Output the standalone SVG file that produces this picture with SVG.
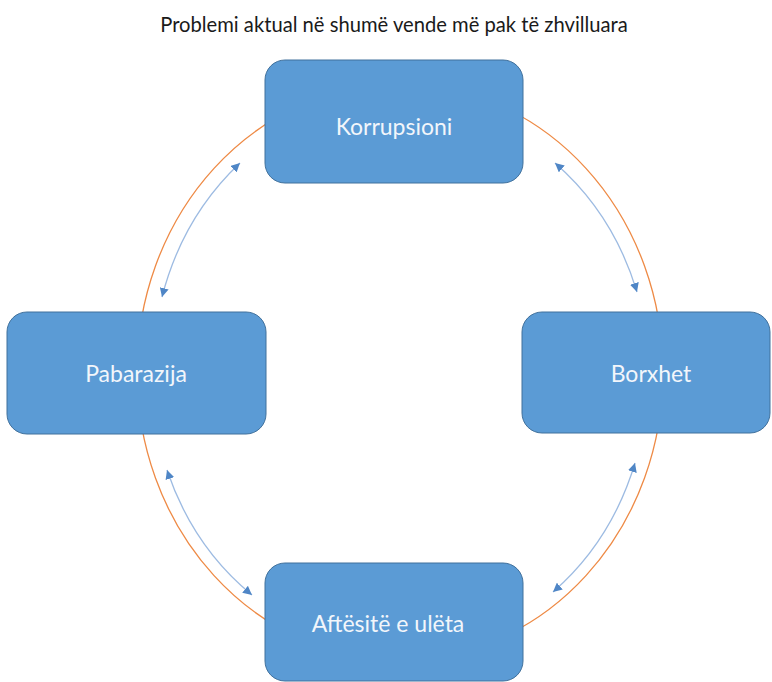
<svg xmlns="http://www.w3.org/2000/svg" width="772" height="682" viewBox="0 0 772 682">
<style>
.box{fill:#5B9BD5;stroke:#41719C;stroke-width:1}
.lbl{font-family:Lato,"Open Sans","Liberation Sans",sans-serif;font-size:23px;fill:#F2F6FB;text-anchor:middle}
.title{font-family:Lato,"Open Sans","Liberation Sans",sans-serif;font-size:20.2px;fill:#1a1a1a;text-anchor:middle}
.arr{fill:none;stroke:#9DBBE2;stroke-width:1.3;marker-start:url(#ah);marker-end:url(#ah)}
</style>
<defs>
<marker id="ah" viewBox="0 0 10 10" refX="10" refY="5" markerWidth="9" markerHeight="9" markerUnits="userSpaceOnUse" orient="auto-start-reverse">
<path d="M0,0 L10,5 L0,10 z" fill="#4F86C6"/>
</marker>
</defs>
<rect width="772" height="682" fill="#FFFFFF"/>
<text class="title" x="394" y="32">Problemi aktual në shumë vende më pak të zhvilluara</text>
<ellipse cx="400" cy="372" rx="263" ry="288" fill="none" stroke="#EE8A45" stroke-width="1.3"/>
<g id="connectors">
<path class="arr" d="M240,163 A249,275 0 0 0 162,297"/>
<path class="arr" d="M555,163 A249,275 0 0 1 637,292"/>
<path class="arr" d="M635,463 A249,275 0 0 1 553,592"/>
<path class="arr" d="M167,470 A249,275 0 0 0 252,595"/>
</g>
<g id="korrupsioni">
<rect class="box" x="265" y="60" width="258" height="123" rx="20"/>
<text class="lbl" x="394" y="135">Korrupsioni</text>
</g>
<g id="pabarazija">
<rect class="box" x="7" y="312" width="259" height="122" rx="20"/>
<text class="lbl" x="136" y="382">Pabarazija</text>
</g>
<g id="borxhet">
<rect class="box" x="522" y="312" width="248" height="121" rx="20"/>
<text class="lbl" x="651" y="382">Borxhet</text>
</g>
<g id="aftesite">
<rect class="box" x="265" y="563" width="258" height="118" rx="20"/>
<text class="lbl" x="388" y="632">Aftësitë e ulëta</text>
</g>
</svg>
